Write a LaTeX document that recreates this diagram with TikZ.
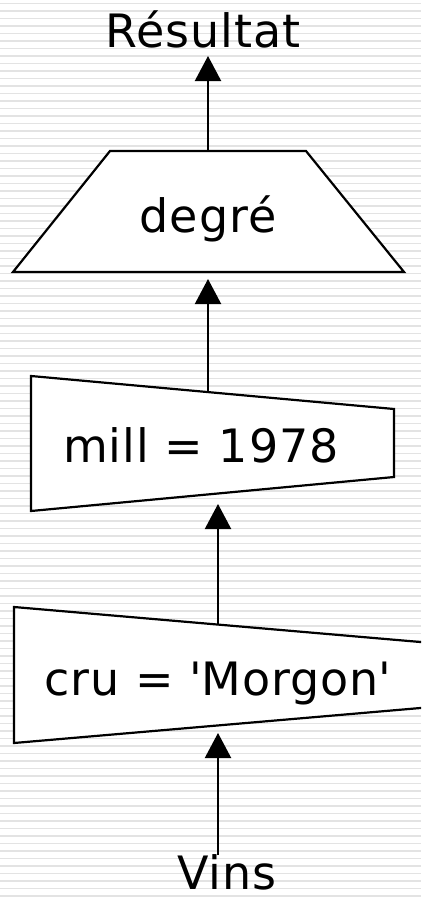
\documentclass[tikz,border=0pt]{standalone}
\usepackage{fontspec}
\setmainfont{DejaVu Sans}[LetterSpace=2]
\usetikzlibrary{arrows.meta}
\definecolor{stripegray}{HTML}{E3E3E3}
\tikzset{
  stripe/.style={draw=stripegray, line width=1.6pt},
  box/.style={draw=black, fill=white, line width=2.2pt, line join=miter},
  arr/.style={draw=black, line width=2.1pt, -{Triangle[length=25pt,width=26pt]}},
  lbl/.style={anchor=base, inner sep=0pt, font=\fontsize{46}{50}\selectfont}
}
\begin{document}
\begin{tikzpicture}[x=1pt,y=-1pt]
\useasboundingbox (0,0) rectangle (421,899);
\clip (0,0) rectangle (421,899);
\fill[white] (0,0) rectangle (421,899);
\foreach \k in {0,...,119}{
  \draw[stripe] (0,{3.5+7.5*\k}) -- (421,{3.5+7.5*\k});
}
% shapes
\draw[box] (110,151) -- (306,151) -- (404,272) -- (13,272) -- cycle;
\draw[box] (31,376) -- (394,409) -- (394,477) -- (31,511) -- cycle;
\draw[box] (14,607) -- (432,643) -- (432,707) -- (14,743) -- cycle;
% labels
\node[lbl] (res) at (203,48) {Résultat};
\node[lbl] (deg) at (208,232) {degré};
\node[lbl] (mill) at (201,462) {mill = 1978};
\node[lbl] (cru) at (218,695) {cru = \textquotesingle Morgon\textquotesingle};
\node[lbl] (vins) at (227,889) {Vins};
% connector ends
\coordinate (a1s) at (208,150);
\coordinate (a1e) at (208,56);
\coordinate (a2s) at (208,391);
\coordinate (a2e) at (208,279);
\coordinate (a3s) at (218,624);
\coordinate (a3e) at (218,504);
\coordinate (a4s) at (218,855);
\coordinate (a4e) at (218,733);
\draw[arr] (a1s) -- (a1e);
\draw[arr] (a2s) -- (a2e);
\draw[arr] (a3s) -- (a3e);
\draw[arr] (a4s) -- (a4e);
\end{tikzpicture}
\end{document}
